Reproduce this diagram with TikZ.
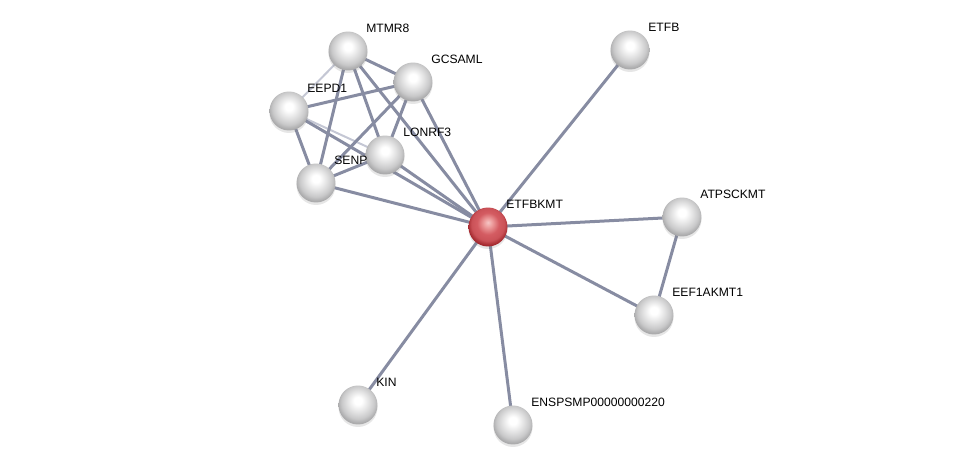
\documentclass[tikz,border=0pt]{standalone}
\usepackage{fontspec}
\setmainfont{Liberation Sans}
\usepackage{tikz}
\usetikzlibrary{backgrounds,shadows}
\definecolor{edgec}{RGB}{135,140,162}
\definecolor{edgel}{RGB}{196,199,212}
\definecolor{rimgray}{RGB}{120,120,122}
\definecolor{hired}{RGB}{238,160,160}
\definecolor{midred}{RGB}{212,92,98}
\definecolor{rimred}{RGB}{165,42,48}
\pgfdeclareradialshading{greyball}{\pgfpoint{0bp}{6bp}}{color(0bp)=(white); color(5bp)=(white); color(14bp)=(rimgray!22); color(21bp)=(rimgray!40); color(26bp)=(rimgray!62); color(50bp)=(rimgray!62)}
\pgfdeclareradialshading{redball}{\pgfpoint{0bp}{6bp}}{color(0bp)=(hired!60!white); color(5bp)=(hired); color(14bp)=(midred); color(21bp)=(midred!80!rimred); color(26bp)=(rimred); color(50bp)=(rimred)}
\tikzset{
  prot/.style={circle, minimum size=.78cm, inner sep=0pt, shading=greyball,
    drop shadow={opacity=.2, shadow xshift=0cm, shadow yshift=-.05cm}},
  query/.style={prot, shading=redball},
  lbl/.style={anchor=west, xshift=.36cm, yshift=.45cm, inner sep=0pt, font=\fontsize{6.9}{8}\selectfont},
  lnk/.style={line width=.06cm, edgec},
  weak/.style={line width=.04cm, edgel}
}

\begin{document}
\begin{tikzpicture}[x=0.02cm, y=-0.02cm]
\useasboundingbox (0,0) rectangle (975,470);

% proteins
\node[prot] (mtmr8) at (348,51) {};
\node[prot] (gcsaml) at (413,82) {};
\node[prot] (eepd1) at (289,111) {};
\node[prot] (senp) at (316,183) {};
\node[prot] (lonrf3) at (385,155) {};
\node[query] (etfbkmt) at (488,227) {};
\node[prot] (etfb) at (630,50) {};
\node[prot] (atpsckmt) at (682,217) {};
\node[prot] (eef1akmt1) at (654,315) {};
\node[prot] (kin) at (358,405) {};
\node[prot] (ensp) at (513,425) {};

% names
\node[lbl] at (mtmr8) {MTMR8};
\node[lbl] at (gcsaml) {GCSAML};
\node[lbl] at (eepd1) {EEPD1};
\node[lbl] at (senp) {SENP};
\node[lbl] at (lonrf3) {LONRF3};
\node[lbl] at (etfbkmt) {ETFBKMT};
\node[lbl] at (etfb) {ETFB};
\node[lbl] at (atpsckmt) {ATPSCKMT};
\node[lbl] at (eef1akmt1) {EEF1AKMT1};
\node[lbl] at (kin) {KIN};
\node[lbl] at (ensp) {ENSPSMP00000000220};

% links
\begin{pgfonlayer}{background}
\draw[weak] (mtmr8.center) -- (eepd1.center);
\draw[weak] (eepd1.center) -- (lonrf3.center);
\draw[lnk] (mtmr8.center) -- (gcsaml.center);
\draw[lnk] (mtmr8.center) -- (senp.center);
\draw[lnk] (mtmr8.center) -- (lonrf3.center);
\draw[lnk] (mtmr8.center) -- (etfbkmt.center);
\draw[lnk] (gcsaml.center) -- (eepd1.center);
\draw[lnk] (gcsaml.center) -- (senp.center);
\draw[lnk] (gcsaml.center) -- (lonrf3.center);
\draw[lnk] (gcsaml.center) -- (etfbkmt.center);
\draw[lnk] (eepd1.center) -- (senp.center);
\draw[lnk] (eepd1.center) -- (etfbkmt.center);
\draw[lnk] (senp.center) -- (lonrf3.center);
\draw[lnk] (senp.center) -- (etfbkmt.center);
\draw[lnk] (lonrf3.center) -- (etfbkmt.center);
\draw[lnk] (etfb.center) -- (etfbkmt.center);
\draw[lnk] (atpsckmt.center) -- (etfbkmt.center);
\draw[lnk] (eef1akmt1.center) -- (etfbkmt.center);
\draw[lnk] (atpsckmt.center) -- (eef1akmt1.center);
\draw[lnk] (kin.center) -- (etfbkmt.center);
\draw[lnk] (ensp.center) -- (etfbkmt.center);
\end{pgfonlayer}
\end{tikzpicture}
\end{document}
